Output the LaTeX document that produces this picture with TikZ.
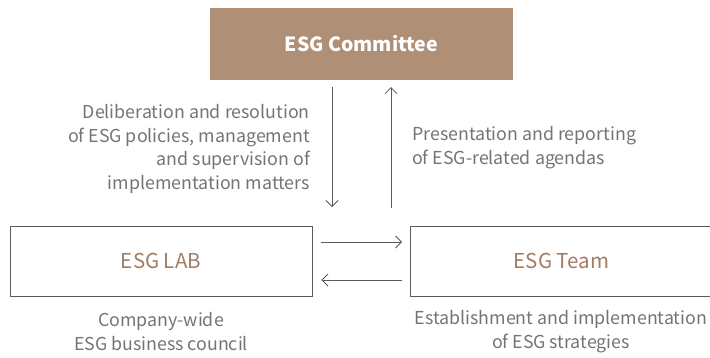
\documentclass[tikz,border=0pt]{standalone}
\usepackage{fontspec}
\setmainfont{Noto Sans CJK KR}
\usepackage{xcolor}
\usetikzlibrary{arrows.meta}
\definecolor{esgBrown}{HTML}{B08F77}
\definecolor{esgBrownText}{HTML}{A27B61}
\definecolor{esgGray}{HTML}{747474}
\definecolor{esgLine}{HTML}{5A5A5A}

\begin{document}
\begin{tikzpicture}[x=1pt,y=-1pt]
  \tikzset{
    board/.style={fill=esgBrown,text=white,font=\fontsize{19.5}{22}\selectfont\bfseries,minimum width=303pt,minimum height=72pt,inner sep=0pt},
    unit/.style={draw=esgLine,line width=0.9pt,text=esgBrownText,font=\fontsize{20.5}{24}\selectfont,minimum width=302pt,minimum height=70pt,inner sep=0pt},
    note/.style={text=esgGray,font=\fontsize{17.8}{23.8}\selectfont,inner sep=0pt},
    flow/.style={draw=esgLine,line width=0.8pt,-{Straight Barb[length=6pt,width=12pt]}}
  }
  \useasboundingbox (0,0) rectangle (710,357);
  \clip (0,0) rectangle (710,357);

  \node[board] (committee) at (361.5,44) {ESG Committee};
  \node[unit] (lab) at (161,261) {ESG LAB};
  \node[unit] (team) at (561.5,261) {ESG Team};

  % ends of the two vertical links
  \coordinate (downTop) at (332,87);
  \coordinate (downEnd) at (332,207);
  \coordinate (upFoot) at (391,208);
  \coordinate (upTop) at (391,87);

  \draw[flow] (downTop) -- (downEnd);
  \draw[flow] (upFoot) -- (upTop);
  \draw[flow,shorten <=9pt,shorten >=8pt] ([yshift=19pt]lab.east) -- ([yshift=19pt]team.west);
  \draw[flow,shorten <=8pt,shorten >=9pt] ([yshift=-19pt]team.west) -- ([yshift=-19pt]lab.east);

  \node[note,align=right,anchor=east] (downText) at (310,149)
    {Deliberation and resolution\\of ESG policies, management\\and supervision of\\implementation matters};
  \node[note,align=left,anchor=west] (upText) at (412,148)
    {Presentation and reporting\\of ESG-related agendas};
  \node[note,align=center] (labText) at (161,331.5)
    {Company-wide\\ESG business council};
  \node[note,align=center] (teamText) at (561,331.5)
    {Establishment and implementation\\of ESG strategies};
\end{tikzpicture}
\end{document}
